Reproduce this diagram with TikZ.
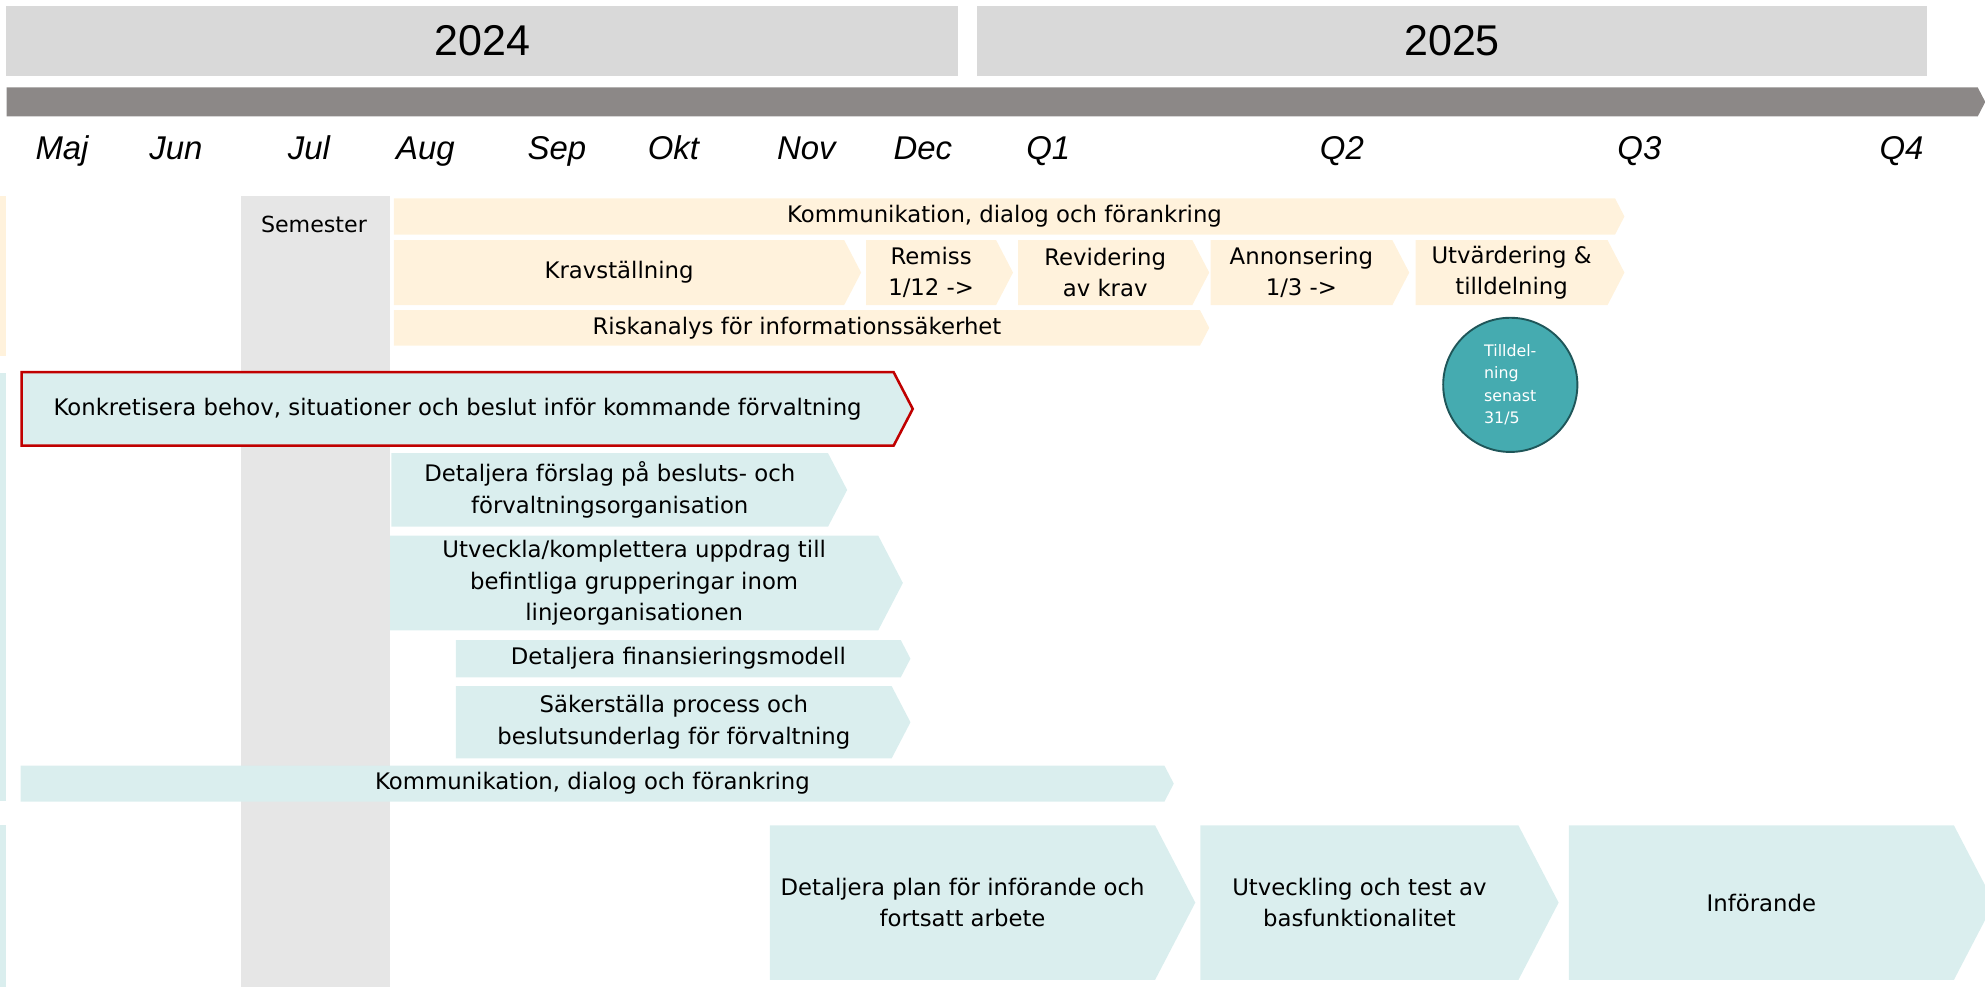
\documentclass[tikz,border=0pt]{standalone}
\usepackage{fontspec}
\setmainfont{DejaVu Sans}
\newfontfamily\headfont{Liberation Sans}
\usetikzlibrary{shapes.symbols}
\definecolor{yeargray}{HTML}{D9D9D9}
\definecolor{linegray}{HTML}{8C8887}
\definecolor{semgray}{HTML}{E6E6E6}
\definecolor{orangefill}{HTML}{FFF2DC}
\definecolor{tealfill}{HTML}{DAEEEE}
\definecolor{redline}{HTML}{C00000}
\definecolor{circlefill}{HTML}{45ABB0}
\definecolor{circleline}{HTML}{1F5659}
\tikzset{
  yearbox/.style={fill=yeargray, minimum height=55pt, inner sep=0pt, font=\headfont\fontsize{34}{40}\selectfont},
  month/.style={anchor=base, font=\headfont\fontsize{26}{30}\selectfont\itshape},
  chev/.style={signal, signal to=east, signal pointer angle=125, inner sep=0pt, anchor=west,
    align=center, font=\fontsize{18}{25}\selectfont},
  orangebox/.style={chev, fill=orangefill},
  tealbox/.style={chev, fill=tealfill},
}
\begin{document}
\begin{tikzpicture}[x=1pt,y=-1pt]
\useasboundingbox (0,0) rectangle (1568,780);

% years and time line
\node[yearbox, minimum width=752pt] (y2024) at (381,32.5) {2024};
\node[yearbox, minimum width=750pt] (y2025) at (1147,32.5) {2025};
\node[chev, fill=linegray, minimum width=1563pt, minimum height=23pt] (tline) at (5,80.5) {};
\foreach \m/\x in {Maj/49, Jun/139, Jul/244, Aug/336, Sep/440, Okt/532, Nov/637, Dec/729,
                   Q1/828, Q2/1060, Q3/1295, Q4/1502}
  \node[month] (m\m) at (\x,126) {\m};

% semester and the left edge strips
\fill[semgray] (190,155) rectangle (308,780);
\node[font=\fontsize{17.5}{25}\selectfont] (sem) at (248,177) {Semester};
\fill[orangefill] (0,155) rectangle (5,281);
\fill[tealfill] (0,295) rectangle (5,633);
\fill[tealfill] (0,652) rectangle (5,780);

% upphandling
\node[orangebox, minimum width=972pt, minimum height=28.6pt] (komm1) at (311,171) {Kommunikation, dialog och förankring};
\node[orangebox, minimum width=369pt, minimum height=51.4pt] (krav) at (311,215.3) {Kravställning};
\node[orangebox, minimum width=116pt, minimum height=51.4pt] (remiss) at (684,215.3) {Remiss\\1/12 ->};
\node[orangebox, minimum width=151pt, minimum height=51.4pt] (revid) at (804,215.3) {Revidering\\av krav};
\node[orangebox, minimum width=157pt, minimum height=51.4pt] (annons) at (956,215.3) {Annonsering\\1/3 ->};
\node[orangebox, minimum width=165pt, minimum height=51.4pt] (utvard) at (1118,215.3) {Utvärdering \&\\tilldelning};
\node[orangebox, minimum width=644pt, minimum height=28pt] (risk) at (311,259) {Riskanalys för informationssäkerhet};
\node[circle, draw=circleline, line width=1.5pt, fill=circlefill, minimum size=106pt, inner sep=0pt,
  text=white, align=left, font=\fontsize{12.5}{17.7}\selectfont] (tilldel) at (1193,304) {Tilldel-\\ning\\senast\\31/5};

% förvaltning
\node[tealbox, draw=redline, line width=2pt, minimum width=704pt, minimum height=58pt] (konkr) at (16,323)
  {Konkretisera behov, situationer och beslut inför kommande förvaltning};
\node[tealbox, minimum width=360pt, minimum height=58pt] (forslag) at (309,387) {Detaljera förslag på besluts- och\\förvaltningsorganisation};
\node[tealbox, minimum width=405pt, minimum height=75pt] (uppdrag) at (308,460.5) {Utveckla/komplettera uppdrag till\\befintliga grupperingar inom\\linjeorganisationen};
\node[tealbox, minimum width=359pt, minimum height=29.4pt] (finans) at (360,520.3) {Detaljera finansieringsmodell};
\node[tealbox, minimum width=359pt, minimum height=57pt] (process) at (360,570.5) {Säkerställa process och\\beslutsunderlag för förvaltning};
\node[tealbox, minimum width=911pt, minimum height=28.5pt] (komm2) at (16,619) {Kommunikation, dialog och förankring};

% införande
\node[tealbox, minimum width=336pt, minimum height=122pt] (plan) at (608,713) {Detaljera plan för införande och\\fortsatt arbete};
\node[tealbox, minimum width=283pt, minimum height=122pt] (bas) at (948,713) {Utveckling och test av\\basfunktionalitet};
\node[tealbox, minimum width=336pt, minimum height=122pt] (inf) at (1239,713) {Införande};
\end{tikzpicture}
\end{document}
